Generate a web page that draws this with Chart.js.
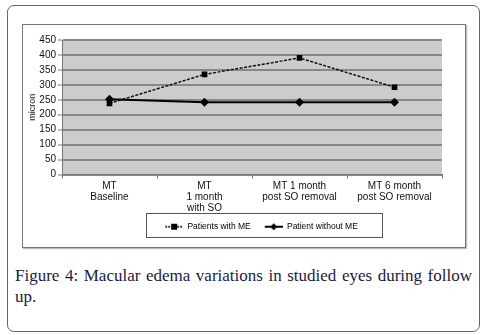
<!DOCTYPE html>
<html>
<head>
<meta charset="utf-8">
<script src="https://cdn.jsdelivr.net/npm/chart.js@4.4.1/dist/chart.umd.min.js"></script>
<style>
  body { margin: 0; background: #fff; width: 488px; height: 335px; position: relative; overflow: hidden; }
  #frame { position: absolute; left: 7px; top: 5px; width: 471px; height: 325px; border: 1px solid #666; border-radius: 7px; }
  #box { position: absolute; left: 22px; top: 24px; width: 442px; height: 222px; border: 1px solid #777; box-shadow: 1px 1px 1px #bbb; }
  #chart { position: absolute; left: 22px; top: 24px; }
  #caption { position: absolute; left: 15px; top: 265px; width: 457px; font-family: "Liberation Serif", serif; font-size: 17px; line-height: 21px; color: #1b1b3d; text-align: justify; }
</style>
</head>
<body>
<div id="frame"></div>
<div id="box"></div>
<canvas id="chart" width="444" height="224"></canvas>
<div id="caption">Figure 4: Macular edema variations in studied eyes during follow up.</div>
<script>
// chart data
const categories = [["MT", "Baseline"], ["MT", "1 month", "with SO"], ["MT 1 month", "post SO removal"], ["MT 6 month", "post SO removal"]];
const withME = [238, 335, 390, 292];
const withoutME = [252, 242, 242, 242];
const yTicks = [0, 50, 100, 150, 200, 250, 300, 350, 400, 450];

// small legend icon: line with marker (transparent margin on the left for spacing)
const ICON_MARGIN = 5;
function legendIcon(dashed, shape) {
  const c = document.createElement('canvas');
  c.width = 18 + ICON_MARGIN; c.height = 8;
  const g = c.getContext('2d');
  g.translate(ICON_MARGIN, 0);
  g.strokeStyle = '#000';
  g.lineWidth = dashed ? 1.5 : 2;
  if (dashed) g.setLineDash([2, 1]);
  g.beginPath(); g.moveTo(0, 4); g.lineTo(18, 4); g.stroke();
  g.fillStyle = '#000';
  if (shape === 'square') {
    g.fillRect(6, 1, 6, 6);
  } else {
    g.beginPath(); g.moveTo(9, 0.5); g.lineTo(12.5, 4); g.lineTo(9, 7.5); g.lineTo(5.5, 4); g.closePath(); g.fill();
  }
  return c;
}

const plotBg = {
  id: 'plotBg',
  afterLayout(chart) {
    // nudge the legend row to the right, as in the original
    chart.legend.left += 27;
    chart.legend.right += 27;
  },
  beforeDraw(chart) {
    const a = chart.chartArea, ctx = chart.ctx;
    ctx.save();
    ctx.fillStyle = '#cccccc';
    ctx.fillRect(a.left, a.top, a.right - a.left, a.bottom - a.top);
    ctx.restore();
  },
  afterDraw(chart) {
    // frame round the legend
    const ctx = chart.ctx;
    const l = 124, r = 360;
    const t = 189, b = 213;
    ctx.save();
    ctx.strokeStyle = '#555';
    ctx.lineWidth = 1;
    ctx.strokeRect(l + 0.5, t + 0.5, r - l, b - t);
    ctx.restore();
  }
};

new Chart(document.getElementById('chart'), {
  type: 'line',
  data: {
    labels: categories,
    datasets: [{
      label: 'Patients with ME',
      data: withME,
      borderColor: '#111',
      borderWidth: 1.5,
      borderDash: [3, 1.5],
      pointStyle: 'rect',
      pointRadius: 4,
      pointBackgroundColor: '#000',
      pointBorderColor: '#000',
      pointBorderWidth: 0,
      tension: 0
    }, {
      label: 'Patient without ME',
      data: withoutME,
      borderColor: '#000',
      borderWidth: 2,
      pointStyle: 'rectRot',
      pointRadius: 4.5,
      pointBackgroundColor: '#000',
      pointBorderColor: '#000',
      pointBorderWidth: 0,
      tension: 0
    }]
  },
  options: {
    responsive: false,
    animation: false,
    devicePixelRatio: 1,
    layout: { padding: { top: 16, right: 24, left: 0, bottom: 7 } },
    plugins: {
      tooltip: { enabled: false },
      legend: {
        position: 'bottom',
        labels: {
          font: { family: 'Liberation Sans', size: 8.5 },
          color: '#000',
          usePointStyle: true,
          pointStyleWidth: 18 + ICON_MARGIN,
          padding: 9,
          generateLabels(chart) {
            return chart.data.datasets.map((ds, i) => ({
              text: ds.label,
              pointStyle: legendIcon(i === 0, i === 0 ? 'square' : 'diamond'),
              fillStyle: '#000',
              strokeStyle: '#000',
              lineWidth: 0,
              hidden: false,
              datasetIndex: i
            }));
          }
        }
      }
    },
    scales: {
      x: {
        offset: true,
        grid: { offset: true, drawOnChartArea: false, color: '#777', tickLength: 4, lineWidth: 1 },
        border: { color: '#777', width: 1 },
        ticks: { font: { family: 'Liberation Sans', size: 10, lineHeight: 1.1 }, color: '#111', padding: 2, maxRotation: 0, autoSkip: false },
        afterFit(scale) { scale.height = 39; }
      },
      y: {
        min: 0, max: 450,
        afterBuildTicks(scale) { scale.ticks = yTicks.map(v => ({ value: v })); },
        grid: { color: '#888', lineWidth: 2, tickLength: 4, tickColor: '#777', tickWidth: 1 },
        border: { color: '#777', width: 1 },
        ticks: { font: { family: 'Liberation Sans', size: 10 }, color: '#111', padding: 2, autoSkip: false },
        title: { display: true, text: 'micron', font: { family: 'Liberation Sans', size: 9 }, color: '#222', padding: { top: 5, bottom: 0 } },
        afterFit(scale) { scale.width = 40; }
      }
    }
  },
  plugins: [plotBg]
});
</script>
</body>
</html>
